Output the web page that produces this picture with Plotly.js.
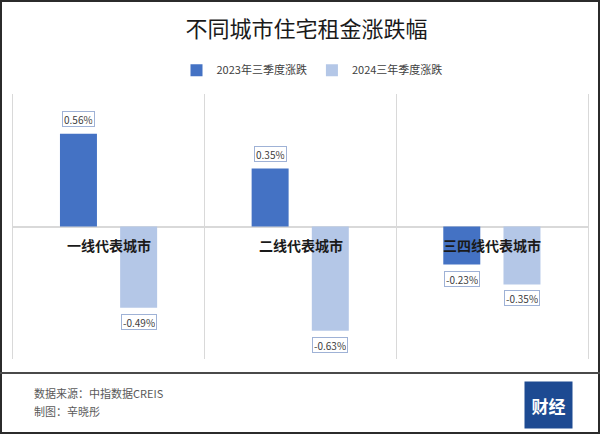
<!DOCTYPE html>
<html>
<head>
<meta charset="utf-8">
<script src="https://cdn.plot.ly/plotly-3.0.1.min.js"></script>
<style>
  html, body { margin: 0; padding: 0; background: #fff; }
  #wrap { position: relative; width: 600px; height: 434px; }
  #chart { width: 600px; height: 434px; }
  .frame { position: absolute; left: 0; top: 0; width: 600px; height: 434px; box-sizing: border-box; border: 2px solid #2b2b2b; pointer-events: none; }
  .sep { position: absolute; left: 0; top: 372px; width: 600px; height: 2px; background: #4a4a4a; pointer-events: none; }
</style>
</head>
<body>
<div id="wrap">
  <div id="chart"></div>
  <div class="frame"></div>
  <div class="sep"></div>
</div>
<script>
const categories = ["一线代表城市", "二线代表城市", "三四线代表城市"];
const seriesNames = ["2023年三季度涨跌", "2024三年季度涨跌"];
const values2023 = [0.56, 0.35, -0.23];
const values2024 = [-0.49, -0.63, -0.35];
const titleText = "不同城市住宅租金涨跌幅";
const sourceText = "数据来源：中指数据CREIS";
const authorText = "制图：辛晓彤";
const logoText = "财经";

const CJK = '"Noto Sans CJK SC", "Noto Sans", sans-serif';
const colors = ["#4472C4", "#B4C7E7"];
const barWidth = 0.193;
const offsets = [-0.255, 0.059];

const series = [values2023, values2024];
const traces = series.map((vals, k) => ({
  type: "bar",
  name: seriesNames[k],
  x: categories,
  y: vals,
  width: barWidth,
  offset: offsets[k],
  marker: { color: colors[k] },
  hoverinfo: "skip"
}));

const annotations = [];
series.forEach((vals, k) => {
  vals.forEach((v, i) => {
    annotations.push({
      xref: "x", yref: "y",
      x: i + offsets[k] + barWidth / 2,
      y: v,
      text: v.toFixed(2) + "%",
      showarrow: false,
      yanchor: v >= 0 ? "bottom" : "top",
      yshift: v >= 0 ? 7 : -6,
      bgcolor: "#ffffff",
      bordercolor: "#9fb2d6",
      borderwidth: 1,
      borderpad: 1,
      height: 12,
      font: { family: CJK, size: 10, color: "#404040" }
    });
  });
});
categories.forEach((c, i) => {
  annotations.push({
    xref: "x", yref: "y",
    x: i, y: 0,
    text: "<b>" + c + "</b>",
    showarrow: false,
    yanchor: "top",
    yshift: -6,
    font: { family: CJK, size: 14, color: "#1a1a1a" }
  });
});
annotations.push({
  xref: "paper", yref: "paper", x: 0.033, y: -0.128,
  xanchor: "left", yanchor: "middle", showarrow: false,
  text: sourceText, font: { family: CJK, size: 11, color: "#595959" }
});
annotations.push({
  xref: "paper", yref: "paper", x: 0.033, y: -0.196,
  xanchor: "left", yanchor: "middle", showarrow: false,
  text: authorText, font: { family: CJK, size: 11, color: "#595959" }
});
annotations.push({
  xref: "paper", yref: "paper", x: 0.9313, y: -0.1736,
  xanchor: "center", yanchor: "middle", showarrow: false,
  text: "<b>" + logoText + "</b>",
  width: 45, height: 44, bgcolor: "#1d4a92",
  font: { family: CJK, size: 17, color: "#ffffff" }
});

const layout = {
  width: 600, height: 434,
  margin: { l: 13, r: 12, t: 94, b: 75 },
  paper_bgcolor: "#ffffff",
  plot_bgcolor: "#ffffff",
  title: {
    text: titleText,
    x: 0.511, xref: "container", xanchor: "center",
    y: 0.933, yref: "container", yanchor: "middle",
    font: { family: CJK, size: 22, color: "#1a1a1a" }
  },
  showlegend: true,
  legend: {
    orientation: "h",
    x: 0.52, xanchor: "center",
    y: 1.09, yanchor: "middle",
    itemwidth: 30,
    font: { family: CJK, size: 11, color: "#404040" },
    traceorder: "normal"
  },
  barmode: "group",
  xaxis: {
    type: "category",
    range: [-0.5, 2.5],
    tickson: "boundaries",
    showgrid: true,
    gridcolor: "#d9d9d9",
    gridwidth: 1,
    showticklabels: false,
    ticks: "",
    showline: false,
    zeroline: false,
    fixedrange: true
  },
  yaxis: {
    range: [-0.8, 0.8],
    showgrid: false,
    showticklabels: false,
    zeroline: true,
    zerolinecolor: "#d9d9d9",
    zerolinewidth: 2,
    showline: true,
    mirror: true,
    linecolor: "#d9d9d9",
    linewidth: 1,
    ticks: "",
    fixedrange: true
  },
  annotations: annotations,
  font: { family: CJK }
};

Plotly.newPlot("chart", traces, layout, { displayModeBar: false, staticPlot: true });
</script>
</body>
</html>
